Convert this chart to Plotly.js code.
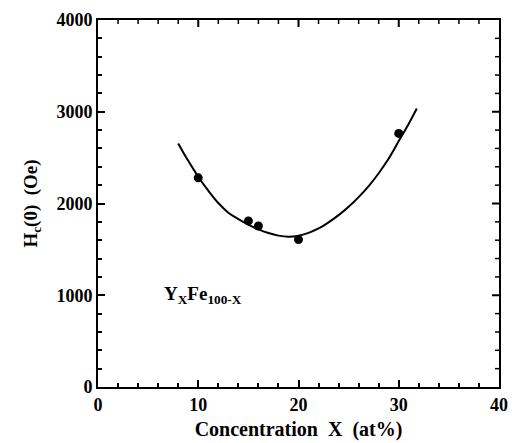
<!DOCTYPE html>
<html>
<head>
<meta charset="utf-8">
<script src="https://cdn.plot.ly/plotly-3.0.1.min.js"></script>
<style>html,body{margin:0;padding:0;background:#fff;}#chart{width:512px;height:443px;}</style>
</head>
<body>
<div id="chart"></div>
<script>
// Measured points
const pointX = [10, 15, 16, 20, 30];
const pointY = [2280, 1810, 1755, 1607, 2764];
// Fitted curve
const curveX = [8, 9, 10, 11, 12, 13, 14, 15, 16, 17, 18, 19, 20, 21, 22, 23, 24, 25, 26, 27, 28, 29, 30, 31, 31.8];
const curveY = [2655, 2465, 2292, 2140, 2005, 1900, 1830, 1770, 1718, 1678, 1650, 1638, 1648, 1680, 1728, 1795, 1873, 1965, 2070, 2190, 2330, 2490, 2680, 2870, 3035];
// Tick positions
const xTicks = [0, 10, 20, 30, 40];
const yTicks = [0, 1000, 2000, 3000, 4000];
const xMinorStep = 2;
const yMinorStep = 200;

const W = 512, H = 443;
const M = {l: 98, r: 13, t: 20, b: 56};
const plotW = W - M.l - M.r, plotH = H - M.t - M.b;
const majorLen = 7, minorLen = 4;

const font = {family: 'Liberation Serif, Times New Roman, serif', color: '#000'};

const traces = [
  {x: curveX, y: curveY, mode: 'lines', line: {color: '#000', width: 2, shape: 'spline', smoothing: 1}},
  {x: pointX, y: pointY, mode: 'markers', marker: {color: '#000', size: 9}}
];

const axisCommon = {
  showgrid: false, zeroline: false, showline: true, linecolor: '#000', linewidth: 2,
  mirror: true, ticks: 'inside', ticklen: majorLen, tickwidth: 2, tickcolor: '#000',
  tickfont: Object.assign({}, font, {size: 18, weight: 'bold'})
};

// Mirrored ticks on the top and right edges, built from the axis tick settings
const shapes = [];
function minorList(lo, hi, step, majors) {
  const out = [];
  for (let v = lo + step; v < hi; v += step) {
    if (majors.indexOf(Math.round(v)) === -1) out.push(Math.round(v));
  }
  return out;
}
const xMinor = minorList(0, 40, xMinorStep, xTicks);
const yMinor = minorList(0, 4000, yMinorStep, yTicks);
function topTick(v, len, w) {
  shapes.push({type: 'line', xref: 'x', yref: 'y domain', x0: v, x1: v, y0: 1, y1: 1 - len / plotH, line: {color: '#000', width: w}});
}
function rightTick(v, len, w) {
  shapes.push({type: 'line', xref: 'x domain', yref: 'y', x0: 1, x1: 1 - len / plotW, y0: v, y1: v, line: {color: '#000', width: w}});
}
xTicks.slice(1, -1).forEach(function (v) { topTick(v, majorLen, 2); });
xMinor.forEach(function (v) { topTick(v, minorLen, 1.5); });
yTicks.slice(1, -1).forEach(function (v) { rightTick(v, majorLen, 2); });
yMinor.forEach(function (v) { rightTick(v, minorLen, 1.5); });

const layout = {
  width: W, height: H,
  margin: M,
  showlegend: false,
  xaxis: Object.assign({}, axisCommon, {
    range: [0, 40], tickvals: xTicks, minor: {dtick: xMinorStep, ticklen: minorLen, ticks: 'inside'},
    title: {text: 'Concentration\u00a0\u00a0X\u00a0\u00a0(at%)', font: Object.assign({}, font, {size: 20, weight: 'bold'}), standoff: 8}
  }),
  yaxis: Object.assign({}, axisCommon, {
    range: [0, 4000], tickvals: yTicks, minor: {dtick: yMinorStep, ticklen: minorLen, ticks: 'inside'},
    title: {text: 'H<sub>c</sub>(0)\u00a0\u00a0(Oe)', font: Object.assign({}, font, {size: 19, weight: 'bold'}), standoff: 14}
  }),
  shapes: shapes,
  annotations: [{
    x: 6.4, y: 1000, xref: 'x', yref: 'y', xanchor: 'left', yanchor: 'middle', showarrow: false,
    text: 'Y<sub>X</sub>Fe<sub>100-X</sub>', font: Object.assign({}, font, {size: 19, weight: 'bold'})
  }]
};

Plotly.newPlot('chart', traces, layout, {staticPlot: true});
</script>
</body>
</html>
